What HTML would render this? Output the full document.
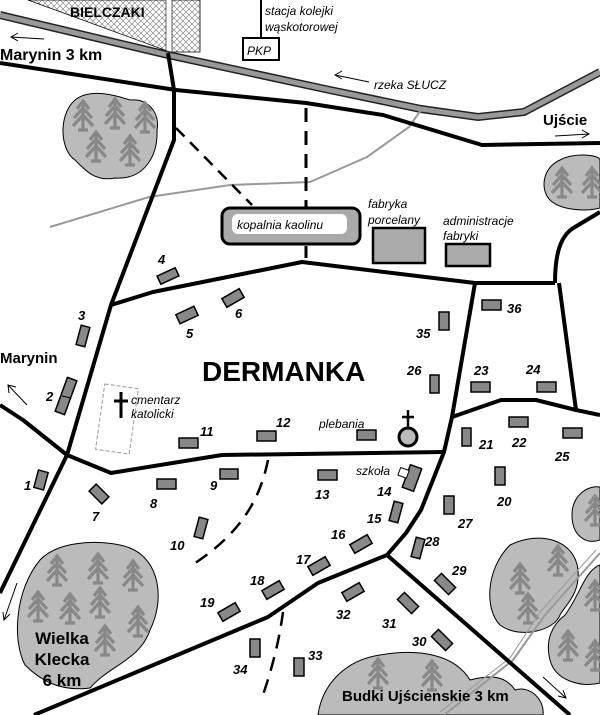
<!DOCTYPE html>
<html><head><meta charset="utf-8"><style>
html,body{margin:0;padding:0;background:#fff;}
svg{display:block;}
text{font-family:"Liberation Sans",sans-serif;}
.n{font-weight:bold;font-style:italic;font-size:13px;}
.it{font-style:italic;font-size:12px;}
.b{font-weight:bold;}
.bd{fill:#888;stroke:#000;stroke-width:1.5;}
.fo{fill:#bbb;stroke:#000;stroke-width:1;}
.rd{fill:none;stroke:#000;stroke-width:4;stroke-linejoin:round;}
.ar{fill:none;stroke:#000;stroke-width:1;}
</style></head><body>
<svg width="600" height="715" viewBox="0 0 600 715" xmlns="http://www.w3.org/2000/svg">
<defs>
<pattern id="h" width="6" height="6" patternUnits="userSpaceOnUse">
<path d="M0,0L6,6M6,0L0,6" stroke="#777" stroke-width="0.6"/>
</pattern>
<g id="t" stroke="#888" stroke-width="3.2" fill="none">
<path d="M0,-15V15M-6,-6L0,-14L6,-6M-9,3L0,-7L9,3M-10,11L0,0L10,11M-5,15H5"/>
</g>
</defs>
<path d="M28,0H200V52H170Z" fill="url(#h)" stroke="#000" stroke-width="0.8"/>
<rect x="166" y="0" width="6" height="55" fill="#fff"/>
<line x1="166" y1="0" x2="166" y2="52" stroke="#000" stroke-width="0.6"/>
<line x1="172" y1="0" x2="172" y2="52" stroke="#000" stroke-width="0.6"/>
<polyline points="0,15 168,55 325,89 421,109 478,117 524,112 600,72" fill="none" stroke="#222" stroke-width="8"/>
<polyline points="0,15 168,55 325,89 421,109 478,117 524,112 600,72" fill="none" stroke="#999" stroke-width="5"/>
<line x1="261" y1="0" x2="261" y2="38" stroke="#000" stroke-width="2"/>
<rect x="243" y="38" width="36" height="22" fill="#fff" stroke="#000" stroke-width="2"/>
<text x="247" y="55" class="it" font-size="13">PKP</text>
<path class="fo" d="M75,100 C90,88 115,95 130,100 C150,98 160,115 157,130 C158,155 145,180 115,178 C95,182 85,170 75,160 C60,150 58,115 75,100Z"/>
<use href="#t" x="83" y="115"/><use href="#t" x="115" y="113"/><use href="#t" x="145" y="117"/><use href="#t" x="96" y="146"/><use href="#t" x="130" y="150"/>
<path class="fo" d="M560,160 C575,152 600,155 600,160 V208 C585,212 560,210 550,200 C540,190 542,168 560,160Z"/>
<use href="#t" x="562" y="182"/><use href="#t" x="592" y="182"/>
<path class="fo" d="M40,560 C60,538 110,540 130,548 C160,560 165,600 150,630 C140,660 110,665 90,688 C60,692 40,680 25,665 C12,640 15,590 40,560Z"/>
<use href="#t" x="57" y="570"/><use href="#t" x="98" y="568"/><use href="#t" x="133" y="575"/><use href="#t" x="38" y="606"/><use href="#t" x="70" y="608"/><use href="#t" x="100" y="602"/><use href="#t" x="138" y="621"/><use href="#t" x="105" y="640"/>
<path class="fo" d="M510,545 C540,530 575,540 578,570 C580,595 565,605 560,615 C555,630 520,640 500,625 C485,610 485,570 510,545Z"/>
<use href="#t" x="520" y="578"/><use href="#t" x="558" y="560"/><use href="#t" x="528" y="608"/>
<path class="fo" d="M600,565 V683 C580,688 555,680 550,660 C545,640 552,625 565,615 C580,595 585,570 600,565Z"/>
<use href="#t" x="568" y="645"/><use href="#t" x="595" y="655"/><use href="#t" x="595" y="595"/>
<path class="fo" d="M600,487 V540 C585,545 572,535 572,515 C572,495 588,485 600,487Z"/>
<use href="#t" x="595" y="510"/>
<path class="fo" d="M318,715 C322,685 345,660 380,655 C420,648 455,655 470,680 C490,675 505,675 515,690 C530,685 545,700 543,715Z"/>
<use href="#t" x="378" y="673"/><use href="#t" x="432" y="675"/>
<polyline points="50,227 149,197 230,185 310,182 367,157 409,127 421,110" fill="none" stroke="#999" stroke-width="2"/>
<polyline points="600,553 545,615 513,660 444,715" fill="none" stroke="#999" stroke-width="2"/>
<polyline points="596,550 540,612 510,658 440,712" fill="none" stroke="#999" stroke-width="1"/>
<polyline class="rd" points="0,63 176,90 306,103 383,115 482,145 600,143"/>
<polyline class="rd" points="168,53 174,90 174,140 111,305 67,455 0,593"/>
<polyline class="rd" points="111,305 153,292 302,262 475,283 555,283"/>
<path class="rd" d="M555,283 C555,255 560,235 575,227 L600,212"/>
<polyline class="rd" points="475,283 452,417 444,452 421,510 406,533 387,555 318,583 268,617 34,715"/>
<polyline class="rd" points="559,283 576,410"/>
<polyline class="rd" points="452,417 501,400 536,400 576,410 600,415"/>
<polyline class="rd" points="444,452 222,455 111,473 67,455 23,420 0,405"/>
<polyline class="rd" points="387,555 570,715" stroke-width="3.5"/>
<line x1="306" y1="108" x2="306" y2="258" stroke="#000" stroke-width="3" stroke-dasharray="14,9"/>
<line x1="176" y1="128" x2="252" y2="205" stroke="#000" stroke-width="2.5" stroke-dasharray="12,8"/>
<path d="M268,460 C260,500 240,535 189,567" fill="none" stroke="#000" stroke-width="2.5" stroke-dasharray="14,9"/>
<path d="M283,612 C278,650 268,680 262,698" fill="none" stroke="#000" stroke-width="2.5" stroke-dasharray="14,9"/>
<path class="ar" d="M44,39 L11,37 M18,33 L11,37 L18,41"/>
<path class="ar" d="M369,82 L335,75 M342,71 L335,75 L342,79"/>
<path class="ar" d="M555,136 L589,134 M582,130 L589,134 L582,138"/>
<path class="ar" d="M27,405 L8,385 M9,393 L8,385 L16,387"/>
<path class="ar" d="M17,583 L4,620 M3,612 L4,620 L10,614"/>
<path class="ar" d="M543,677 L566,698 M558,696 L566,698 L563,690"/>
<rect x="222" y="208" width="138" height="36" rx="8" fill="#aaa" stroke="#000" stroke-width="3"/>
<rect x="232" y="214" width="115" height="20" rx="6" fill="#fff"/>
<text x="237" y="229" class="it" font-size="13">kopalnia kaolinu</text>
<rect x="373" y="228" width="52" height="35" fill="#aaa" stroke="#000" stroke-width="2.5"/>
<rect x="446" y="244" width="44" height="22" fill="#aaa" stroke="#000" stroke-width="2.5"/>
<text x="368" y="208" class="it" font-size="13">fabryka</text>
<text x="368" y="224" class="it" font-size="13">porcelany</text>
<text x="443" y="225" class="it" font-size="13">administracje</text>
<text x="443" y="240" class="it" font-size="13">fabryki</text>
<rect x="100" y="386" width="34" height="66" fill="none" stroke="#999" stroke-width="1" stroke-dasharray="4,2" transform="rotate(8 117 419)"/>
<path d="M121,392V418M114,401H128" stroke="#000" stroke-width="3"/>
<text x="131" y="404" class="it" font-size="12">cmentarz</text>
<text x="131" y="418" class="it" font-size="12">katolicki</text>
<path d="M408,410V428M402,417H414" stroke="#000" stroke-width="2.5"/>
<circle cx="408" cy="437" r="9" fill="#bbb" stroke="#000" stroke-width="3"/>
<g>
<rect class="bd" x="-5" y="-9" width="10" height="18" transform="translate(41,480) rotate(15)"/>
<rect class="bd" x="-5" y="-18" width="10" height="36" transform="translate(66,396) rotate(20)"/>
<line x1="62" y1="396" x2="71" y2="398" stroke="#000"/>
<rect class="bd" x="-4.5" y="-10" width="9" height="20" transform="translate(83,336) rotate(15)"/>
<rect class="bd" x="-10" y="-4.5" width="20" height="9" transform="translate(168,276) rotate(-25)"/>
<rect class="bd" x="-10" y="-5" width="20" height="10" transform="translate(187,315) rotate(-25)"/>
<rect class="bd" x="-10" y="-5" width="20" height="10" transform="translate(233,298) rotate(-30)"/>
<rect class="bd" x="-9" y="-5" width="18" height="10" transform="translate(99,494) rotate(45)"/>
<rect class="bd" x="157" y="479" width="19" height="10"/>
<rect class="bd" x="220" y="469" width="18" height="10"/>
<rect class="bd" x="-4.5" y="-10" width="9" height="20" transform="translate(201,528) rotate(15)"/>
<rect class="bd" x="179" y="438" width="19" height="10"/>
<rect class="bd" x="257" y="431" width="19" height="10"/>
<rect class="bd" x="318" y="470" width="19" height="10"/>
<rect class="bd" x="357" y="430" width="19" height="10"/>
<rect class="bd" x="-6" y="-12" width="12" height="24" transform="translate(412,478) rotate(20)"/>
<rect x="-5" y="-4" width="9" height="8" fill="#fff" stroke="#000" transform="translate(404,473) rotate(20)"/>
<rect class="bd" x="-4.5" y="-10" width="9" height="20" transform="translate(396,512) rotate(15)"/>
<rect class="bd" x="-10" y="-5" width="20" height="10" transform="translate(361,544) rotate(-30)"/>
<rect class="bd" x="-10" y="-5" width="20" height="10" transform="translate(319,566) rotate(-30)"/>
<rect class="bd" x="-10" y="-5" width="20" height="10" transform="translate(273,590) rotate(-30)"/>
<rect class="bd" x="-10" y="-5" width="20" height="10" transform="translate(229,612) rotate(-30)"/>
<rect class="bd" x="495" y="467" width="10" height="18"/>
<rect class="bd" x="462" y="428" width="9" height="18"/>
<rect class="bd" x="509" y="417" width="19" height="10"/>
<rect class="bd" x="471" y="382" width="19" height="10"/>
<rect class="bd" x="537" y="382" width="19" height="10"/>
<rect class="bd" x="563" y="428" width="19" height="10"/>
<rect class="bd" x="430" y="375" width="9" height="18"/>
<rect class="bd" x="444" y="496" width="10" height="18"/>
<rect class="bd" x="-4.5" y="-10" width="9" height="20" transform="translate(418,548) rotate(15)"/>
<rect class="bd" x="-5" y="-10" width="10" height="20" transform="translate(445,584) rotate(-45)"/>
<rect class="bd" x="-5" y="-10" width="10" height="20" transform="translate(442,640) rotate(-45)"/>
<rect class="bd" x="-5" y="-10" width="10" height="20" transform="translate(408,603) rotate(-45)"/>
<rect class="bd" x="-10" y="-5" width="20" height="10" transform="translate(353,592) rotate(-30)"/>
<rect class="bd" x="294" y="658" width="10" height="18"/>
<rect class="bd" x="250" y="639" width="10" height="18"/>
<rect class="bd" x="439" y="312" width="10" height="18"/>
<rect class="bd" x="482" y="300" width="19" height="10"/>
</g>
<g class="n">
<text x="24" y="490">1</text><text x="46" y="401">2</text><text x="78" y="320">3</text>
<text x="158" y="264">4</text><text x="186" y="338">5</text><text x="235" y="318">6</text>
<text x="92" y="521">7</text><text x="150" y="508">8</text><text x="210" y="490">9</text>
<text x="170" y="550">10</text><text x="200" y="436">11</text><text x="276" y="427">12</text>
<text x="315" y="499">13</text><text x="377" y="496">14</text><text x="367" y="523">15</text>
<text x="331" y="539">16</text><text x="296" y="564">17</text><text x="250" y="585">18</text>
<text x="200" y="607">19</text><text x="497" y="506">20</text><text x="479" y="449">21</text>
<text x="512" y="447">22</text><text x="474" y="375">23</text><text x="526" y="374">24</text>
<text x="555" y="461">25</text><text x="407" y="375">26</text><text x="458" y="528">27</text>
<text x="425" y="546">28</text><text x="452" y="575">29</text><text x="412" y="646">30</text>
<text x="382" y="628">31</text><text x="336" y="619">32</text><text x="308" y="660">33</text>
<text x="233" y="674">34</text><text x="416" y="338">35</text><text x="507" y="313">36</text>
</g>
<text x="70" y="17" class="b" font-size="14">BIELCZAKI</text>
<text x="265" y="15" class="it" font-size="12">stacja kolejki</text>
<text x="265" y="31" class="it" font-size="12">wąskotorowej</text>
<text x="0" y="60" class="b" font-size="16">Marynin  3 km</text>
<text x="374" y="89" class="it" font-size="12">rzeka SŁUCZ</text>
<text x="543" y="125" class="b" font-size="15">Ujście</text>
<text x="202" y="381" class="b" font-size="28">DERMANKA</text>
<text x="0" y="363" class="b" font-size="15">Marynin</text>
<text x="319" y="428" class="it" font-size="12">plebania</text>
<text x="356" y="475" class="it" font-size="12">szkoła</text>
<text x="62" y="644" class="b" font-size="17" text-anchor="middle">Wielka</text>
<text x="62" y="665" class="b" font-size="17" text-anchor="middle">Klecka</text>
<text x="62" y="686" class="b" font-size="17" text-anchor="middle">6 km</text>
<text x="342" y="701" class="b" font-size="15">Budki Ujścienskie 3 km</text>
</svg>
</body></html>
